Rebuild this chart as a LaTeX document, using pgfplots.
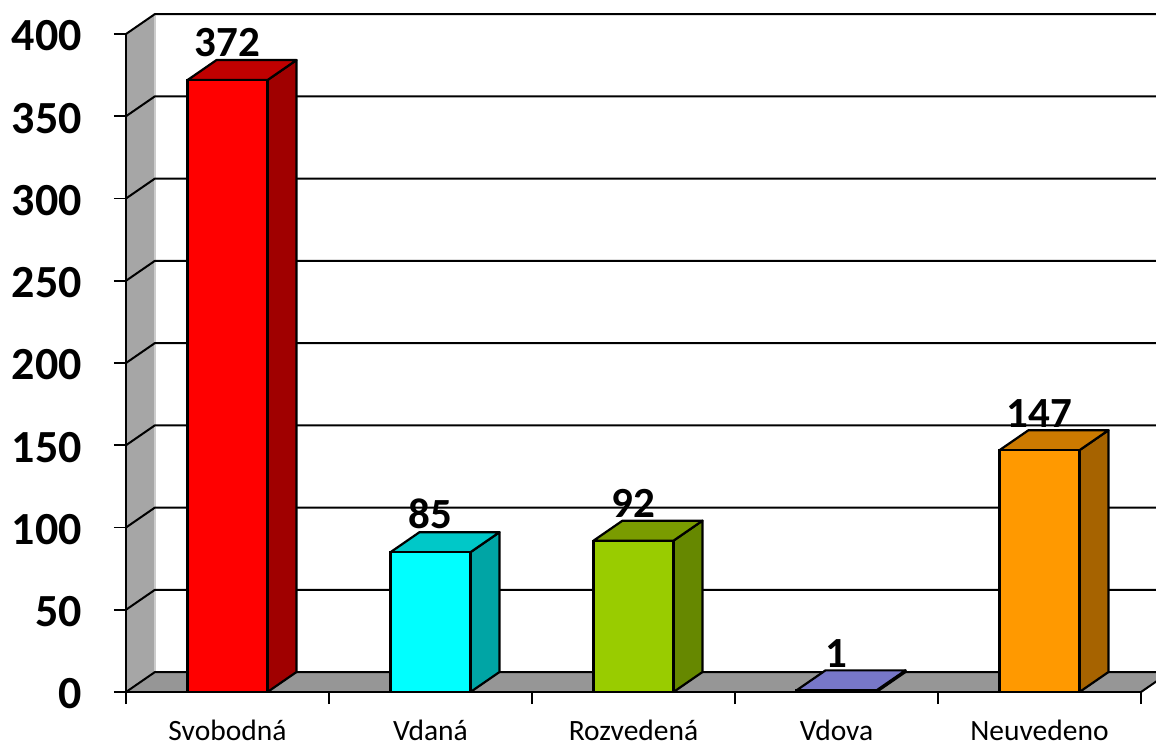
\documentclass[border=0pt]{standalone}
\usepackage{pgfplots}
\pgfplotsset{compat=1.18}
\usepackage{fontspec}
\setmainfont{Carlito}

\definecolor{wallgray}{HTML}{A6A6A6}
\definecolor{floorgray}{HTML}{969696}
\definecolor{redF}{HTML}{FF0000}\definecolor{redS}{HTML}{A00000}\definecolor{redT}{HTML}{C00000}
\definecolor{cyaF}{HTML}{00FFFF}\definecolor{cyaS}{HTML}{00A5A5}\definecolor{cyaT}{HTML}{00C8C8}
\definecolor{grnF}{HTML}{99CC00}\definecolor{grnS}{HTML}{668800}\definecolor{grnT}{HTML}{7A9C00}
\definecolor{purF}{HTML}{9999FF}\definecolor{purS}{HTML}{5C5C99}\definecolor{purT}{HTML}{7777C8}
\definecolor{orgF}{HTML}{FF9900}\definecolor{orgS}{HTML}{A66300}\definecolor{orgT}{HTML}{CC7A00}

% half bar width and depth offsets in axis units
\newcommand\hw{0.197}
\newcommand\ddx{0.14286}
\newcommand\ddy{12.16}

% #1 centre, #2 value, #3 front, #4 side, #5 top
\newcommand\cube[5]{%
 \pgfmathsetmacro\xr{#1+\hw}%
 \pgfmathsetmacro\xl{#1-\hw}%
 \pgfmathsetmacro\xrb{#1+\hw+\ddx}%
 \pgfmathsetmacro\xlb{#1-\hw+\ddx}%
 \pgfmathsetmacro\vt{#2+\ddy}%
 \edef\tmp{\noexpand\addplot[fill=#4, draw=black, line width=1.1pt, line join=round, forget plot] coordinates {(\xr,0) (\xrb,\ddy) (\xrb,\vt) (\xr,#2) (\xr,0)};}\tmp
 \edef\tmp{\noexpand\addplot[fill=#5, draw=black, line width=1.1pt, line join=round, forget plot] coordinates {(\xl,#2) (\xr,#2) (\xrb,\vt) (\xlb,\vt) (\xl,#2)};}\tmp
 \addplot[ybar, bar shift=0pt, bar width=40pt, fill=#3, draw=black, line width=1.1pt, forget plot,
   nodes near coords,
   every node near coord/.append style={anchor=south, yshift=10pt, inner sep=1pt, text=black,
     font=\bfseries\fontsize{21.5}{23}\selectfont}]
   coordinates {(#1,#2)};
}

\begin{document}
\begin{tikzpicture}
\useasboundingbox (-63pt,-30pt) rectangle (515pt,346pt);
\begin{axis}[
  anchor=origin, at={(0,0)},
  x=101.5pt, y=0.8225pt,
  xmin=0, xmax=5, ymin=0, ymax=400,
  clip=false, axis on top,
  axis x line*=bottom, axis y line*=left,
  axis line style={line width=1.1pt, black},
  tick align=outside,
  major tick length=6pt,
  tick style={black, line width=0.9pt},
  ytick={0,50,...,400},
  xtick={0,1,...,5},
  x tick label as interval,
  xticklabels={Svobodná,Vdaná,Rozvedená,Vdova,Neuvedeno},
  xticklabel style={anchor=base, inner sep=0pt, yshift=-18pt, font=\fontsize{14.75}{16}\selectfont},
  yticklabel style={anchor=east, xshift=-12.5pt, yshift=-1pt, font=\bfseries\fontsize{23}{25}\selectfont},
  /pgf/number format/assume math mode=true,
]
% left wall
\addplot[fill=wallgray, draw=none, forget plot] coordinates {(0,0) (0,400) (0.14286,412.16) (0.14286,12.16) (0,0)};
\draw[gray!40, line width=0.8pt] (axis cs:0.14286,12.16) -- (axis cs:0.14286,412.16);
% floor
\addplot[fill=floorgray, draw=none, forget plot] coordinates {(0,0) (0.14286,12.16) (5.14286,12.16) (5,0) (0,0)};
\draw[black, line width=1pt] (axis cs:5,0) -- (axis cs:5.14286,12.16);
% grid lines on walls
\pgfplotsinvokeforeach{0,50,...,400}{
  \draw[black, line width=1pt] (axis cs:0,#1) -- (axis cs:0.14286,#1+12.16) -- (axis cs:5.14286,#1+12.16);
}
\cube{0.5}{372}{redF}{redS}{redT}
\cube{1.5}{85}{cyaF}{cyaS}{cyaT}
\cube{2.5}{92}{grnF}{grnS}{grnT}
\cube{3.5}{1}{purF}{purS}{purT}
\cube{4.5}{147}{orgF}{orgS}{orgT}
\end{axis}
\end{tikzpicture}
\end{document}
